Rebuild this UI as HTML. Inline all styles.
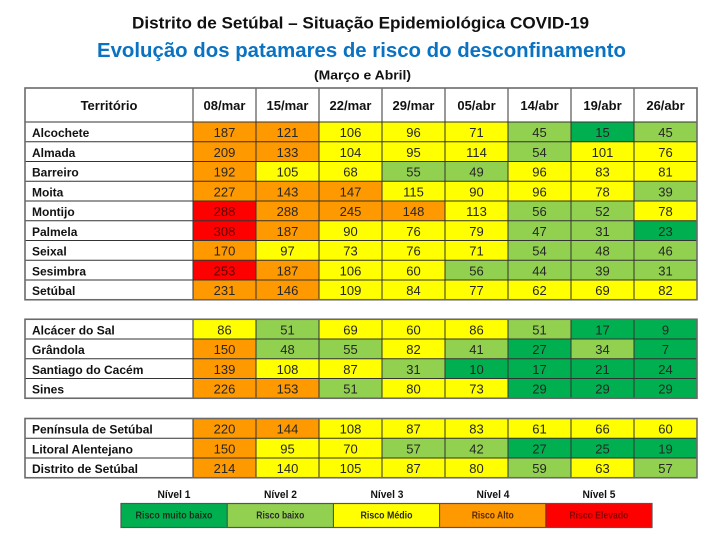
<!DOCTYPE html>
<html><head><meta charset="utf-8">
<style>
html,body{margin:0;padding:0;background:#fff;}
svg{display:block;}
.o{fill:#FF9900}.r{fill:#FF0000}.y{fill:#FFFF00}.l{fill:#92D050}.d{fill:#00B050}
text{font-family:"Liberation Sans",sans-serif;}
.n{font-size:13px;text-anchor:middle;fill:#262626;}
.lb{font-size:12px;font-weight:bold;fill:#111;}
.h{font-size:13px;font-weight:bold;text-anchor:middle;fill:#111;}
.lg{font-size:10px;font-weight:bold;text-anchor:middle;}
.nv{font-size:11px;font-weight:bold;text-anchor:middle;fill:#111;}
.ln{stroke:#333;stroke-width:1;fill:none;}
.ob{stroke:#6a6a6a;stroke-width:1.6;fill:none;}
</style></head>
<body>
<svg width="717" height="538" viewBox="0 0 717 538" xmlns="http://www.w3.org/2000/svg">
<rect width="717" height="538" fill="#fff"/>
<text x="132" y="28.5" font-size="17" font-weight="bold" fill="#111" textLength="457" lengthAdjust="spacingAndGlyphs">Distrito de Setúbal – Situação Epidemiológica COVID-19</text>
<text x="97" y="57" font-size="20" font-weight="bold" fill="#0A72C2" textLength="529" lengthAdjust="spacingAndGlyphs">Evolução dos patamares de risco do desconfinamento</text>
<text x="314" y="79.5" font-size="13" font-weight="bold" fill="#111" textLength="97" lengthAdjust="spacingAndGlyphs">(Março  e Abril)</text>

<!-- header -->
<text class="h" x="109" y="110">Território</text>
<text class="h" x="224.5" y="110">08/mar</text>
<text class="h" x="287.5" y="110">15/mar</text>
<text class="h" x="350.5" y="110">22/mar</text>
<text class="h" x="413.5" y="110">29/mar</text>
<text class="h" x="476.5" y="110">05/abr</text>
<text class="h" x="539.5" y="110">14/abr</text>
<text class="h" x="602.5" y="110">19/abr</text>
<text class="h" x="665.5" y="110">26/abr</text>

<!-- group 1 -->
<g transform="translate(0,122)"><text class="lb" x="32" y="15">Alcochete</text>
<rect class="o" x="193" width="63" height="19.75"/><rect class="o" x="256" width="63" height="19.75"/><rect class="y" x="319" width="63" height="19.75"/><rect class="y" x="382" width="63" height="19.75"/><rect class="y" x="445" width="63" height="19.75"/><rect class="l" x="508" width="63" height="19.75"/><rect class="d" x="571" width="63" height="19.75"/><rect class="l" x="634" width="63" height="19.75"/>
<text class="n" x="224.5" y="15">187</text><text class="n" x="287.5" y="15">121</text><text class="n" x="350.5" y="15">106</text><text class="n" x="413.5" y="15">96</text><text class="n" x="476.5" y="15">71</text><text class="n" x="539.5" y="15">45</text><text class="n" x="602.5" y="15">15</text><text class="n" x="665.5" y="15">45</text></g>

<g transform="translate(0,141.75)"><text class="lb" x="32" y="15">Almada</text>
<rect class="o" x="193" width="63" height="19.75"/><rect class="o" x="256" width="63" height="19.75"/><rect class="y" x="319" width="63" height="19.75"/><rect class="y" x="382" width="63" height="19.75"/><rect class="y" x="445" width="63" height="19.75"/><rect class="l" x="508" width="63" height="19.75"/><rect class="y" x="571" width="63" height="19.75"/><rect class="y" x="634" width="63" height="19.75"/>
<text class="n" x="224.5" y="15">209</text><text class="n" x="287.5" y="15">133</text><text class="n" x="350.5" y="15">104</text><text class="n" x="413.5" y="15">95</text><text class="n" x="476.5" y="15">114</text><text class="n" x="539.5" y="15">54</text><text class="n" x="602.5" y="15">101</text><text class="n" x="665.5" y="15">76</text></g>

<g transform="translate(0,161.5)"><text class="lb" x="32" y="15">Barreiro</text>
<rect class="o" x="193" width="63" height="19.75"/><rect class="y" x="256" width="63" height="19.75"/><rect class="y" x="319" width="63" height="19.75"/><rect class="l" x="382" width="63" height="19.75"/><rect class="l" x="445" width="63" height="19.75"/><rect class="y" x="508" width="63" height="19.75"/><rect class="y" x="571" width="63" height="19.75"/><rect class="y" x="634" width="63" height="19.75"/>
<text class="n" x="224.5" y="15">192</text><text class="n" x="287.5" y="15">105</text><text class="n" x="350.5" y="15">68</text><text class="n" x="413.5" y="15">55</text><text class="n" x="476.5" y="15">49</text><text class="n" x="539.5" y="15">96</text><text class="n" x="602.5" y="15">83</text><text class="n" x="665.5" y="15">81</text></g>

<g transform="translate(0,181.25)"><text class="lb" x="32" y="15">Moita</text>
<rect class="o" x="193" width="63" height="19.75"/><rect class="o" x="256" width="63" height="19.75"/><rect class="o" x="319" width="63" height="19.75"/><rect class="y" x="382" width="63" height="19.75"/><rect class="y" x="445" width="63" height="19.75"/><rect class="y" x="508" width="63" height="19.75"/><rect class="y" x="571" width="63" height="19.75"/><rect class="l" x="634" width="63" height="19.75"/>
<text class="n" x="224.5" y="15">227</text><text class="n" x="287.5" y="15">143</text><text class="n" x="350.5" y="15">147</text><text class="n" x="413.5" y="15">115</text><text class="n" x="476.5" y="15">90</text><text class="n" x="539.5" y="15">96</text><text class="n" x="602.5" y="15">78</text><text class="n" x="665.5" y="15">39</text></g>

<g transform="translate(0,201)"><text class="lb" x="32" y="15">Montijo</text>
<rect class="r" x="193" width="63" height="19.75"/><rect class="o" x="256" width="63" height="19.75"/><rect class="o" x="319" width="63" height="19.75"/><rect class="o" x="382" width="63" height="19.75"/><rect class="y" x="445" width="63" height="19.75"/><rect class="l" x="508" width="63" height="19.75"/><rect class="l" x="571" width="63" height="19.75"/><rect class="y" x="634" width="63" height="19.75"/>
<text class="n" x="224.5" y="15" fill="#5a0000" style="fill:#5a0000">288</text><text class="n" x="287.5" y="15">288</text><text class="n" x="350.5" y="15">245</text><text class="n" x="413.5" y="15">148</text><text class="n" x="476.5" y="15">113</text><text class="n" x="539.5" y="15">56</text><text class="n" x="602.5" y="15">52</text><text class="n" x="665.5" y="15">78</text></g>

<g transform="translate(0,220.75)"><text class="lb" x="32" y="15">Palmela</text>
<rect class="r" x="193" width="63" height="19.75"/><rect class="o" x="256" width="63" height="19.75"/><rect class="y" x="319" width="63" height="19.75"/><rect class="y" x="382" width="63" height="19.75"/><rect class="y" x="445" width="63" height="19.75"/><rect class="l" x="508" width="63" height="19.75"/><rect class="l" x="571" width="63" height="19.75"/><rect class="d" x="634" width="63" height="19.75"/>
<text class="n" x="224.5" y="15" style="fill:#5a0000">308</text><text class="n" x="287.5" y="15">187</text><text class="n" x="350.5" y="15">90</text><text class="n" x="413.5" y="15">76</text><text class="n" x="476.5" y="15">79</text><text class="n" x="539.5" y="15">47</text><text class="n" x="602.5" y="15">31</text><text class="n" x="665.5" y="15">23</text></g>

<g transform="translate(0,240.5)"><text class="lb" x="32" y="15">Seixal</text>
<rect class="o" x="193" width="63" height="19.75"/><rect class="y" x="256" width="63" height="19.75"/><rect class="y" x="319" width="63" height="19.75"/><rect class="y" x="382" width="63" height="19.75"/><rect class="y" x="445" width="63" height="19.75"/><rect class="l" x="508" width="63" height="19.75"/><rect class="l" x="571" width="63" height="19.75"/><rect class="l" x="634" width="63" height="19.75"/>
<text class="n" x="224.5" y="15">170</text><text class="n" x="287.5" y="15">97</text><text class="n" x="350.5" y="15">73</text><text class="n" x="413.5" y="15">76</text><text class="n" x="476.5" y="15">71</text><text class="n" x="539.5" y="15">54</text><text class="n" x="602.5" y="15">48</text><text class="n" x="665.5" y="15">46</text></g>

<g transform="translate(0,260.25)"><text class="lb" x="32" y="15">Sesimbra</text>
<rect class="r" x="193" width="63" height="19.75"/><rect class="o" x="256" width="63" height="19.75"/><rect class="y" x="319" width="63" height="19.75"/><rect class="y" x="382" width="63" height="19.75"/><rect class="l" x="445" width="63" height="19.75"/><rect class="l" x="508" width="63" height="19.75"/><rect class="l" x="571" width="63" height="19.75"/><rect class="l" x="634" width="63" height="19.75"/>
<text class="n" x="224.5" y="15" style="fill:#5a0000">253</text><text class="n" x="287.5" y="15">187</text><text class="n" x="350.5" y="15">106</text><text class="n" x="413.5" y="15">60</text><text class="n" x="476.5" y="15">56</text><text class="n" x="539.5" y="15">44</text><text class="n" x="602.5" y="15">39</text><text class="n" x="665.5" y="15">31</text></g>

<g transform="translate(0,280)"><text class="lb" x="32" y="15">Setúbal</text>
<rect class="o" x="193" width="63" height="19.75"/><rect class="o" x="256" width="63" height="19.75"/><rect class="y" x="319" width="63" height="19.75"/><rect class="y" x="382" width="63" height="19.75"/><rect class="y" x="445" width="63" height="19.75"/><rect class="y" x="508" width="63" height="19.75"/><rect class="y" x="571" width="63" height="19.75"/><rect class="y" x="634" width="63" height="19.75"/>
<text class="n" x="224.5" y="15">231</text><text class="n" x="287.5" y="15">146</text><text class="n" x="350.5" y="15">109</text><text class="n" x="413.5" y="15">84</text><text class="n" x="476.5" y="15">77</text><text class="n" x="539.5" y="15">62</text><text class="n" x="602.5" y="15">69</text><text class="n" x="665.5" y="15">82</text></g>

<!-- group 1 lines -->
<path class="ln" d="M25 122H697M25 141.75H697M25 161.5H697M25 181.25H697M25 201H697M25 220.75H697M25 240.5H697M25 260.25H697M25 280H697M193 88V299.75M256 88V299.75M319 88V299.75M382 88V299.75M445 88V299.75M508 88V299.75M571 88V299.75M634 88V299.75"/>
<rect class="ob" x="25" y="88" width="672" height="211.75"/>

<!-- group 2 -->
<g transform="translate(0,319.25)"><text class="lb" x="32" y="15">Alcácer do Sal</text>
<rect class="y" x="193" width="63" height="19.75"/><rect class="l" x="256" width="63" height="19.75"/><rect class="y" x="319" width="63" height="19.75"/><rect class="y" x="382" width="63" height="19.75"/><rect class="y" x="445" width="63" height="19.75"/><rect class="l" x="508" width="63" height="19.75"/><rect class="d" x="571" width="63" height="19.75"/><rect class="d" x="634" width="63" height="19.75"/>
<text class="n" x="224.5" y="15">86</text><text class="n" x="287.5" y="15">51</text><text class="n" x="350.5" y="15">69</text><text class="n" x="413.5" y="15">60</text><text class="n" x="476.5" y="15">86</text><text class="n" x="539.5" y="15">51</text><text class="n" x="602.5" y="15">17</text><text class="n" x="665.5" y="15">9</text></g>

<g transform="translate(0,339)"><text class="lb" x="32" y="15">Grândola</text>
<rect class="o" x="193" width="63" height="19.75"/><rect class="l" x="256" width="63" height="19.75"/><rect class="l" x="319" width="63" height="19.75"/><rect class="y" x="382" width="63" height="19.75"/><rect class="l" x="445" width="63" height="19.75"/><rect class="d" x="508" width="63" height="19.75"/><rect class="l" x="571" width="63" height="19.75"/><rect class="d" x="634" width="63" height="19.75"/>
<text class="n" x="224.5" y="15">150</text><text class="n" x="287.5" y="15">48</text><text class="n" x="350.5" y="15">55</text><text class="n" x="413.5" y="15">82</text><text class="n" x="476.5" y="15">41</text><text class="n" x="539.5" y="15">27</text><text class="n" x="602.5" y="15">34</text><text class="n" x="665.5" y="15">7</text></g>

<g transform="translate(0,358.75)"><text class="lb" x="32" y="15">Santiago do Cacém</text>
<rect class="o" x="193" width="63" height="19.75"/><rect class="y" x="256" width="63" height="19.75"/><rect class="y" x="319" width="63" height="19.75"/><rect class="l" x="382" width="63" height="19.75"/><rect class="d" x="445" width="63" height="19.75"/><rect class="d" x="508" width="63" height="19.75"/><rect class="d" x="571" width="63" height="19.75"/><rect class="d" x="634" width="63" height="19.75"/>
<text class="n" x="224.5" y="15">139</text><text class="n" x="287.5" y="15">108</text><text class="n" x="350.5" y="15">87</text><text class="n" x="413.5" y="15">31</text><text class="n" x="476.5" y="15">10</text><text class="n" x="539.5" y="15">17</text><text class="n" x="602.5" y="15">21</text><text class="n" x="665.5" y="15">24</text></g>

<g transform="translate(0,378.5)"><text class="lb" x="32" y="15">Sines</text>
<rect class="o" x="193" width="63" height="19.75"/><rect class="o" x="256" width="63" height="19.75"/><rect class="l" x="319" width="63" height="19.75"/><rect class="y" x="382" width="63" height="19.75"/><rect class="y" x="445" width="63" height="19.75"/><rect class="d" x="508" width="63" height="19.75"/><rect class="d" x="571" width="63" height="19.75"/><rect class="d" x="634" width="63" height="19.75"/>
<text class="n" x="224.5" y="15">226</text><text class="n" x="287.5" y="15">153</text><text class="n" x="350.5" y="15">51</text><text class="n" x="413.5" y="15">80</text><text class="n" x="476.5" y="15">73</text><text class="n" x="539.5" y="15">29</text><text class="n" x="602.5" y="15">29</text><text class="n" x="665.5" y="15">29</text></g>

<path class="ln" d="M25 339H697M25 358.75H697M25 378.5H697M193 319.25V398.25M256 319.25V398.25M319 319.25V398.25M382 319.25V398.25M445 319.25V398.25M508 319.25V398.25M571 319.25V398.25M634 319.25V398.25"/>
<rect class="ob" x="25" y="319.25" width="672" height="79"/>

<!-- group 3 -->
<g transform="translate(0,418.5)"><text class="lb" x="32" y="15">Península de Setúbal</text>
<rect class="o" x="193" width="63" height="19.75"/><rect class="o" x="256" width="63" height="19.75"/><rect class="y" x="319" width="63" height="19.75"/><rect class="y" x="382" width="63" height="19.75"/><rect class="y" x="445" width="63" height="19.75"/><rect class="y" x="508" width="63" height="19.75"/><rect class="y" x="571" width="63" height="19.75"/><rect class="y" x="634" width="63" height="19.75"/>
<text class="n" x="224.5" y="15">220</text><text class="n" x="287.5" y="15">144</text><text class="n" x="350.5" y="15">108</text><text class="n" x="413.5" y="15">87</text><text class="n" x="476.5" y="15">83</text><text class="n" x="539.5" y="15">61</text><text class="n" x="602.5" y="15">66</text><text class="n" x="665.5" y="15">60</text></g>

<g transform="translate(0,438.25)"><text class="lb" x="32" y="15">Litoral Alentejano</text>
<rect class="o" x="193" width="63" height="19.75"/><rect class="y" x="256" width="63" height="19.75"/><rect class="y" x="319" width="63" height="19.75"/><rect class="l" x="382" width="63" height="19.75"/><rect class="l" x="445" width="63" height="19.75"/><rect class="d" x="508" width="63" height="19.75"/><rect class="d" x="571" width="63" height="19.75"/><rect class="d" x="634" width="63" height="19.75"/>
<text class="n" x="224.5" y="15">150</text><text class="n" x="287.5" y="15">95</text><text class="n" x="350.5" y="15">70</text><text class="n" x="413.5" y="15">57</text><text class="n" x="476.5" y="15">42</text><text class="n" x="539.5" y="15">27</text><text class="n" x="602.5" y="15">25</text><text class="n" x="665.5" y="15">19</text></g>

<g transform="translate(0,458)"><text class="lb" x="32" y="15">Distrito de Setúbal</text>
<rect class="o" x="193" width="63" height="19.75"/><rect class="y" x="256" width="63" height="19.75"/><rect class="y" x="319" width="63" height="19.75"/><rect class="y" x="382" width="63" height="19.75"/><rect class="y" x="445" width="63" height="19.75"/><rect class="l" x="508" width="63" height="19.75"/><rect class="y" x="571" width="63" height="19.75"/><rect class="l" x="634" width="63" height="19.75"/>
<text class="n" x="224.5" y="15">214</text><text class="n" x="287.5" y="15">140</text><text class="n" x="350.5" y="15">105</text><text class="n" x="413.5" y="15">87</text><text class="n" x="476.5" y="15">80</text><text class="n" x="539.5" y="15">59</text><text class="n" x="602.5" y="15">63</text><text class="n" x="665.5" y="15">57</text></g>

<path class="ln" d="M25 438.25H697M25 458H697M193 418.5V477.75M256 418.5V477.75M319 418.5V477.75M382 418.5V477.75M445 418.5V477.75M508 418.5V477.75M571 418.5V477.75M634 418.5V477.75"/>
<rect class="ob" x="25" y="418.5" width="672" height="59.25"/>

<!-- legend -->
<text class="nv" x="174" y="498" textLength="33" lengthAdjust="spacingAndGlyphs">Nível 1</text>
<text class="nv" x="280.5" y="498" textLength="33" lengthAdjust="spacingAndGlyphs">Nível 2</text>
<text class="nv" x="387" y="498" textLength="33" lengthAdjust="spacingAndGlyphs">Nível 3</text>
<text class="nv" x="493" y="498" textLength="33" lengthAdjust="spacingAndGlyphs">Nível 4</text>
<text class="nv" x="599" y="498" textLength="33" lengthAdjust="spacingAndGlyphs">Nível 5</text>
<rect class="d" x="121" y="503.5" width="106.2" height="24"/>
<rect class="l" x="227.2" y="503.5" width="106.2" height="24"/>
<rect class="y" x="333.4" y="503.5" width="106.2" height="24"/>
<rect class="o" x="439.6" y="503.5" width="106.2" height="24"/>
<rect class="r" x="545.8" y="503.5" width="106.2" height="24"/>
<path d="M227.2 503.5V527.5M333.4 503.5V527.5M439.6 503.5V527.5M545.8 503.5V527.5" stroke="#444" stroke-width="1" fill="none"/>
<rect x="121" y="503.5" width="531" height="24" fill="none" stroke="#555" stroke-width="1.2"/>
<text class="lg" x="174" y="518.5" fill="#1c2e1c" textLength="77" lengthAdjust="spacingAndGlyphs">Risco muito baixo</text>
<text class="lg" x="280.3" y="518.5" fill="#2a2a2a" textLength="48" lengthAdjust="spacingAndGlyphs">Risco baixo</text>
<text class="lg" x="386.5" y="518.5" fill="#2a2a2a" textLength="52" lengthAdjust="spacingAndGlyphs">Risco Médio</text>
<text class="lg" x="492.7" y="518.5" fill="#5a2a00" textLength="42" lengthAdjust="spacingAndGlyphs">Risco Alto</text>
<text class="lg" x="598.9" y="518.5" fill="#8a0000" textLength="59" lengthAdjust="spacingAndGlyphs">Risco Elevado</text>
</svg>
</body></html>
